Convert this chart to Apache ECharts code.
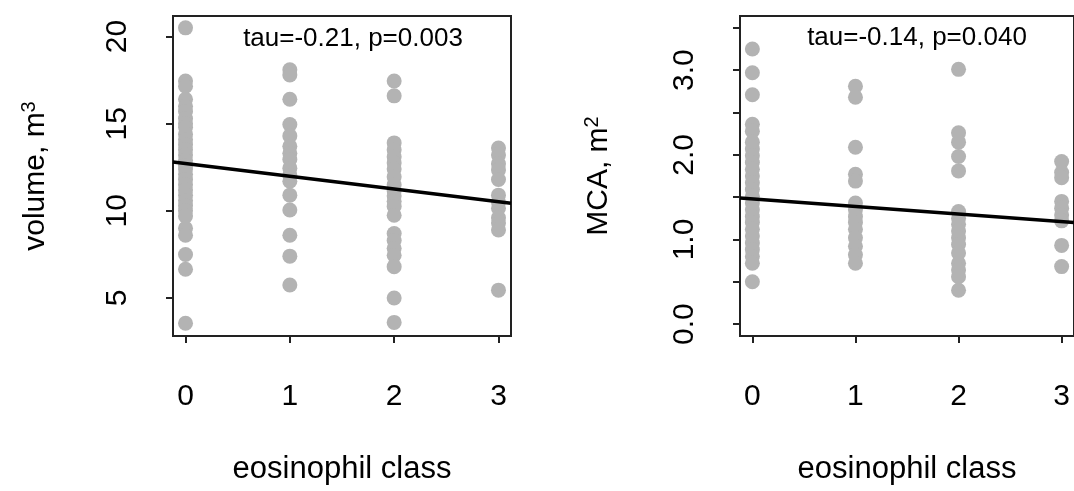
<!DOCTYPE html>
<html>
<head>
<meta charset="utf-8">
<script src="https://cdn.jsdelivr.net/npm/echarts@6/dist/echarts.min.js"></script>
<style>html,body{margin:0;padding:0;background:#fff}#c{width:1074px;height:491px}</style>
</head>
<body>
<div id="c"></div>
<script>
// ---- data ----
const classTicks = [0, 1, 2, 3];
const volTicks = [5, 10, 15, 20];
const mcaTicks = [0, 0.5, 1, 1.5, 2, 2.5, 3, 3.5];
const mcaLabels = [0, 1, 2, 3];

const vol0 = [20.5, 17.45, 17.15, 16.4, 16.0, 15.7, 15.3, 15.0, 14.8, 14.4, 14.1, 13.8, 13.5, 13.2, 12.9, 12.6, 12.4, 12.1, 11.8, 11.5, 11.2, 10.9, 10.6, 10.3, 10.0, 9.7, 9.0, 8.6, 7.5, 6.65, 3.55];
const vol1 = [18.1, 17.8, 16.4, 14.95, 14.3, 13.7, 13.3, 12.95, 12.45, 12.05, 11.7, 10.9, 10.05, 8.6, 7.4, 5.75];
const vol2 = [17.45, 16.6, 13.9, 13.5, 13.1, 12.75, 12.4, 11.95, 11.5, 11.15, 10.85, 10.55, 10.25, 9.75, 8.7, 8.3, 7.85, 7.45, 6.8, 5.0, 3.6];
const vol3 = [13.6, 13.2, 12.7, 12.35, 11.8, 10.9, 10.5, 10.15, 9.6, 9.3, 8.9, 5.45];
const volFitX = [-0.12, 3.12];
const volFitY = [12.8, 10.44];

const mca0 = [3.25, 2.97, 2.71, 2.36, 2.28, 2.15, 2.07, 1.99, 1.91, 1.83, 1.75, 1.67, 1.59, 1.51, 1.43, 1.35, 1.27, 1.2, 1.12, 1.04, 0.96, 0.88, 0.8, 0.72, 0.5];
const mca1 = [2.81, 2.68, 2.09, 1.77, 1.69, 1.43, 1.35, 1.27, 1.2, 1.12, 1.02, 0.92, 0.82, 0.72];
const mca2 = [3.01, 2.26, 2.15, 1.98, 1.81, 1.33, 1.25, 1.18, 1.1, 1.02, 0.94, 0.84, 0.72, 0.64, 0.56, 0.4];
const mca3 = [1.92, 1.79, 1.73, 1.45, 1.37, 1.29, 1.22, 0.93, 0.68];
const mcaFitX = [-0.12, 3.12];
const mcaFitY = [1.49, 1.2];

const statLeft = 'tau=-0.21, p=0.003';
const statRight = 'tau=-0.14, p=0.040';
// ----------------

function pts(x, arr) { return arr.map(v => [x, v]); }
function fit(xs, ys) { return xs.map((x, i) => [x, ys[i]]); }

const FONT = 'Liberation Sans, Arial, Helvetica, sans-serif';
const grey = '#b3b3b3';

function xAxisDef(gi) {
  return {
    gridIndex: gi, type: 'value', min: -0.12, max: 3.12,
    axisLine: { show: false, onZero: false }, splitLine: { show: false },
    axisTick: { show: true, customValues: classTicks, length: 7, lineStyle: { color: '#222', width: 2 } },
    axisLabel: { customValues: classTicks, fontSize: 30, color: '#000', fontFamily: FONT, margin: 46 },
    name: 'eosinophil class', nameLocation: 'middle', nameGap: 118,
    nameTextStyle: { fontSize: 31, color: '#000', fontFamily: FONT }
  };
}

const option = {
  animation: false,
  backgroundColor: '#fff',
  grid: [
    { left: 173, top: 16, width: 338, height: 320, show: true, borderColor: '#222', borderWidth: 2, backgroundColor: 'transparent' },
    { left: 740, top: 16, width: 337, height: 320, show: true, borderColor: '#222', borderWidth: 2, backgroundColor: 'transparent' }
  ],
  xAxis: [xAxisDef(0), xAxisDef(1)],
  yAxis: [
    {
      gridIndex: 0, type: 'value', min: 2.82, max: 21.18,
      axisLine: { show: false, onZero: false }, splitLine: { show: false },
      axisTick: { show: true, customValues: volTicks, length: 7, lineStyle: { color: '#222', width: 2 } },
      axisLabel: { customValues: volTicks, rotate: 90, fontSize: 30, color: '#000', fontFamily: FONT, margin: 40 },
      name: '{a|volume, m}{s|3}', nameLocation: 'middle', nameRotate: 90, nameGap: 120,
      nameTextStyle: { fontFamily: FONT, color: '#000', rich: {
        a: { fontSize: 30, fontFamily: FONT, color: '#000', lineHeight: 34 },
        s: { fontSize: 20, fontFamily: FONT, color: '#000', verticalAlign: 'top', lineHeight: 34 } } }
    },
    {
      gridIndex: 1, type: 'value', min: -0.14, max: 3.64,
      axisLine: { show: false, onZero: false }, splitLine: { show: false },
      axisTick: { show: true, customValues: mcaTicks, length: 7, lineStyle: { color: '#222', width: 2 } },
      axisLabel: { customValues: mcaLabels, rotate: 90, fontSize: 30, color: '#000', fontFamily: FONT, margin: 40,
        formatter: v => Number(v).toFixed(1) },
      name: '{a|MCA, m}{s|2}', nameLocation: 'middle', nameRotate: 90, nameGap: 124,
      nameTextStyle: { fontFamily: FONT, color: '#000', rich: {
        a: { fontSize: 30, fontFamily: FONT, color: '#000', lineHeight: 34 },
        s: { fontSize: 20, fontFamily: FONT, color: '#000', verticalAlign: 'top', lineHeight: 34 } } }
    }
  ],
  graphic: [
    { type: 'text', x: 353, y: 39, z: 100, style: { text: statLeft, fontSize: 26, fontFamily: FONT, fill: '#000', align: 'center', verticalAlign: 'middle' } },
    { type: 'text', x: 917, y: 38, z: 100, style: { text: statRight, fontSize: 26, fontFamily: FONT, fill: '#000', align: 'center', verticalAlign: 'middle' } }
  ],
  series: [
    ...[vol0, vol1, vol2, vol3].map((arr, i) => ({
      type: 'scatter', xAxisIndex: 0, yAxisIndex: 0, data: pts(classTicks[i], arr),
      symbolSize: 15, itemStyle: { color: grey, opacity: 1 }, silent: true
    })),
    { type: 'line', xAxisIndex: 0, yAxisIndex: 0, data: fit(volFitX, volFitY), symbol: 'none', z: 10,
      lineStyle: { color: '#000', width: 3.5 } },
    ...[mca0, mca1, mca2, mca3].map((arr, i) => ({
      type: 'scatter', xAxisIndex: 1, yAxisIndex: 1, data: pts(classTicks[i], arr),
      symbolSize: 15, itemStyle: { color: grey, opacity: 1 }, silent: true
    })),
    { type: 'line', xAxisIndex: 1, yAxisIndex: 1, data: fit(mcaFitX, mcaFitY), symbol: 'none', z: 10,
      lineStyle: { color: '#000', width: 3.5 } }
  ]
};

const chart = echarts.init(document.getElementById('c'), null, { renderer: 'canvas' });
chart.setOption(option);
</script>
</body>
</html>
